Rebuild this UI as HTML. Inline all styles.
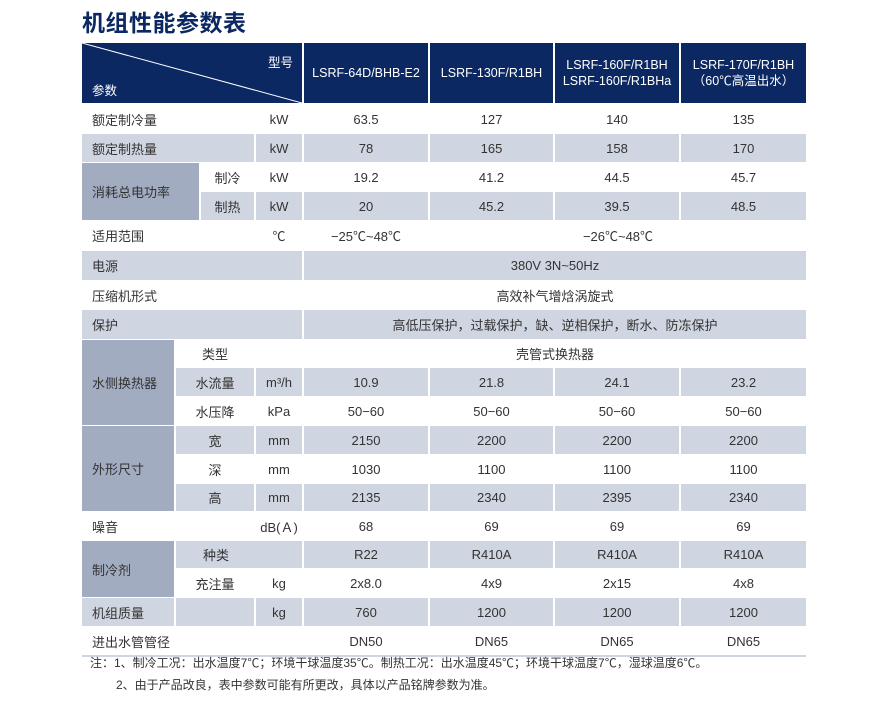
<!DOCTYPE html>
<html><head><meta charset="utf-8"><style>
body{margin:0;width:891px;height:704px;background:#fff;position:relative;overflow:hidden;font-family:"Liberation Sans","Noto Sans CJK SC",sans-serif;color:#333;font-size:13px}
.c{position:absolute;display:flex;align-items:center;justify-content:center;white-space:nowrap}
.l{justify-content:flex-start;padding-left:10px;box-sizing:border-box}
.g{background:#d0d6e1}
.G{background:#a2acc1}
.h{background:#0c2862;color:#fff;text-align:center;line-height:16px;font-size:12.5px}
</style></head><body>
<div style="position:absolute;left:82px;top:4px;font-size:23px;font-weight:bold;color:#0c2862;letter-spacing:0.5px">机组性能参数表</div>

<!-- header -->
<div class="c h" style="left:82px;top:43px;width:220px;height:60px"></div>
<svg style="position:absolute;left:82px;top:43px" width="220" height="60"><line x1="0" y1="0" x2="220" y2="60" stroke="#fff" stroke-width="1"/></svg>
<div style="position:absolute;left:268px;top:52px;color:#fff;font-size:12.5px">型号</div>
<div style="position:absolute;left:92px;top:80px;color:#fff;font-size:12.5px">参数</div>
<div class="c h" style="left:304px;top:43px;width:124px;height:60px">LSRF-64D/BHB-E2</div>
<div class="c h" style="left:430px;top:43px;width:123px;height:60px">LSRF-130F/R1BH</div>
<div class="c h" style="left:555px;top:43px;width:124px;height:60px">LSRF-160F/R1BH<br>LSRF-160F/R1BHa</div>
<div class="c h" style="left:681px;top:43px;width:125px;height:60px">LSRF-170F/R1BH<br>（60℃高温出水）</div>

<!-- 额定制冷量 -->
<div class="c l" style="left:82px;top:105px;width:172px;height:28px">额定制冷量</div>
<div class="c" style="left:256px;top:105px;width:46px;height:28px">kW</div>
<div class="c" style="left:304px;top:105px;width:124px;height:28px">63.5</div>
<div class="c" style="left:430px;top:105px;width:123px;height:28px">127</div>
<div class="c" style="left:555px;top:105px;width:124px;height:28px">140</div>
<div class="c" style="left:681px;top:105px;width:125px;height:28px">135</div>
<!-- 额定制热量 -->
<div class="c l g" style="left:82px;top:134px;width:172px;height:28px">额定制热量</div>
<div class="c g" style="left:256px;top:134px;width:46px;height:28px">kW</div>
<div class="c g" style="left:304px;top:134px;width:124px;height:28px">78</div>
<div class="c g" style="left:430px;top:134px;width:123px;height:28px">165</div>
<div class="c g" style="left:555px;top:134px;width:124px;height:28px">158</div>
<div class="c g" style="left:681px;top:134px;width:125px;height:28px">170</div>
<!-- power -->
<div class="c l G" style="left:82px;top:163px;width:117px;height:57px">消耗总电功率</div>
<div class="c" style="left:201px;top:163px;width:53px;height:28px">制冷</div>
<div class="c" style="left:256px;top:163px;width:46px;height:28px">kW</div>
<div class="c" style="left:304px;top:163px;width:124px;height:28px">19.2</div>
<div class="c" style="left:430px;top:163px;width:123px;height:28px">41.2</div>
<div class="c" style="left:555px;top:163px;width:124px;height:28px">44.5</div>
<div class="c" style="left:681px;top:163px;width:125px;height:28px">45.7</div>
<div class="c g" style="left:201px;top:192px;width:53px;height:28px">制热</div>
<div class="c g" style="left:256px;top:192px;width:46px;height:28px">kW</div>
<div class="c g" style="left:304px;top:192px;width:124px;height:28px">20</div>
<div class="c g" style="left:430px;top:192px;width:123px;height:28px">45.2</div>
<div class="c g" style="left:555px;top:192px;width:124px;height:28px">39.5</div>
<div class="c g" style="left:681px;top:192px;width:125px;height:28px">48.5</div>
<!-- 适用范围 -->
<div class="c l" style="left:82px;top:221px;width:172px;height:29px">适用范围</div>
<div class="c" style="left:256px;top:221px;width:46px;height:29px">℃</div>
<div class="c" style="left:304px;top:221px;width:124px;height:29px">−25℃~48℃</div>
<div class="c" style="left:430px;top:221px;width:376px;height:29px">−26℃~48℃</div>
<!-- 电源 -->
<div class="c l g" style="left:82px;top:251px;width:220px;height:29px">电源</div>
<div class="c g" style="left:304px;top:251px;width:502px;height:29px">380V 3N~50Hz</div>
<!-- 压缩机 -->
<div class="c l" style="left:82px;top:281px;width:220px;height:28px">压缩机形式</div>
<div class="c" style="left:304px;top:281px;width:502px;height:28px">高效补气增焓涡旋式</div>
<!-- 保护 -->
<div class="c l g" style="left:82px;top:310px;width:220px;height:29px">保护</div>
<div class="c g" style="left:304px;top:310px;width:502px;height:29px">高低压保护，过载保护，缺、逆相保护，断水、防冻保护</div>
<!-- water -->
<div class="c l G" style="left:82px;top:340px;width:92px;height:85px">水侧换热器</div>
<div class="c" style="left:176px;top:340px;width:78px;height:27px">类型</div>
<div class="c" style="left:304px;top:340px;width:502px;height:27px">壳管式换热器</div>
<div class="c g" style="left:176px;top:368px;width:78px;height:28px">水流量</div>
<div class="c g" style="left:256px;top:368px;width:46px;height:28px">m³/h</div>
<div class="c g" style="left:304px;top:368px;width:124px;height:28px">10.9</div>
<div class="c g" style="left:430px;top:368px;width:123px;height:28px">21.8</div>
<div class="c g" style="left:555px;top:368px;width:124px;height:28px">24.1</div>
<div class="c g" style="left:681px;top:368px;width:125px;height:28px">23.2</div>
<div class="c" style="left:176px;top:397px;width:78px;height:28px">水压降</div>
<div class="c" style="left:256px;top:397px;width:46px;height:28px">kPa</div>
<div class="c" style="left:304px;top:397px;width:124px;height:28px">50−60</div>
<div class="c" style="left:430px;top:397px;width:123px;height:28px">50−60</div>
<div class="c" style="left:555px;top:397px;width:124px;height:28px">50−60</div>
<div class="c" style="left:681px;top:397px;width:125px;height:28px">50−60</div>
<!-- size -->
<div class="c l G" style="left:82px;top:426px;width:92px;height:85px">外形尺寸</div>
<div class="c g" style="left:176px;top:426px;width:78px;height:28px">宽</div>
<div class="c g" style="left:256px;top:426px;width:46px;height:28px">mm</div>
<div class="c g" style="left:304px;top:426px;width:124px;height:28px">2150</div>
<div class="c g" style="left:430px;top:426px;width:123px;height:28px">2200</div>
<div class="c g" style="left:555px;top:426px;width:124px;height:28px">2200</div>
<div class="c g" style="left:681px;top:426px;width:125px;height:28px">2200</div>
<div class="c" style="left:176px;top:455px;width:78px;height:28px">深</div>
<div class="c" style="left:256px;top:455px;width:46px;height:28px">mm</div>
<div class="c" style="left:304px;top:455px;width:124px;height:28px">1030</div>
<div class="c" style="left:430px;top:455px;width:123px;height:28px">1100</div>
<div class="c" style="left:555px;top:455px;width:124px;height:28px">1100</div>
<div class="c" style="left:681px;top:455px;width:125px;height:28px">1100</div>
<div class="c g" style="left:176px;top:484px;width:78px;height:27px">高</div>
<div class="c g" style="left:256px;top:484px;width:46px;height:27px">mm</div>
<div class="c g" style="left:304px;top:484px;width:124px;height:27px">2135</div>
<div class="c g" style="left:430px;top:484px;width:123px;height:27px">2340</div>
<div class="c g" style="left:555px;top:484px;width:124px;height:27px">2395</div>
<div class="c g" style="left:681px;top:484px;width:125px;height:27px">2340</div>
<!-- noise -->
<div class="c l" style="left:82px;top:512px;width:172px;height:28px">噪音</div>
<div class="c" style="left:256px;top:512px;width:46px;height:28px">dB(Ａ)</div>
<div class="c" style="left:304px;top:512px;width:124px;height:28px">68</div>
<div class="c" style="left:430px;top:512px;width:123px;height:28px">69</div>
<div class="c" style="left:555px;top:512px;width:124px;height:28px">69</div>
<div class="c" style="left:681px;top:512px;width:125px;height:28px">69</div>
<!-- refrigerant -->
<div class="c l G" style="left:82px;top:541px;width:92px;height:56px">制冷剂</div>
<div class="c g" style="left:176px;top:541px;width:126px;height:27px;justify-content:flex-start;padding-left:27px;box-sizing:border-box">种类</div>
<div class="c g" style="left:304px;top:541px;width:124px;height:27px">R22</div>
<div class="c g" style="left:430px;top:541px;width:123px;height:27px">R410A</div>
<div class="c g" style="left:555px;top:541px;width:124px;height:27px">R410A</div>
<div class="c g" style="left:681px;top:541px;width:125px;height:27px">R410A</div>
<div class="c" style="left:176px;top:569px;width:78px;height:28px">充注量</div>
<div class="c" style="left:256px;top:569px;width:46px;height:28px">kg</div>
<div class="c" style="left:304px;top:569px;width:124px;height:28px">2x8.0</div>
<div class="c" style="left:430px;top:569px;width:123px;height:28px">4x9</div>
<div class="c" style="left:555px;top:569px;width:124px;height:28px">2x15</div>
<div class="c" style="left:681px;top:569px;width:125px;height:28px">4x8</div>
<!-- weight -->
<div class="c l g" style="left:82px;top:598px;width:92px;height:28px">机组质量</div>
<div class="c g" style="left:176px;top:598px;width:78px;height:28px"></div>
<div class="c g" style="left:256px;top:598px;width:46px;height:28px">kg</div>
<div class="c g" style="left:304px;top:598px;width:124px;height:28px">760</div>
<div class="c g" style="left:430px;top:598px;width:123px;height:28px">1200</div>
<div class="c g" style="left:555px;top:598px;width:124px;height:28px">1200</div>
<div class="c g" style="left:681px;top:598px;width:125px;height:28px">1200</div>
<!-- pipe -->
<div class="c l" style="left:82px;top:627px;width:220px;height:28px">进出水管管径</div>
<div class="c" style="left:304px;top:627px;width:124px;height:28px">DN50</div>
<div class="c" style="left:430px;top:627px;width:123px;height:28px">DN65</div>
<div class="c" style="left:555px;top:627px;width:124px;height:28px">DN65</div>
<div class="c" style="left:681px;top:627px;width:125px;height:28px">DN65</div>
<div style="position:absolute;left:82px;top:655px;width:724px;height:2px;background:#d0d6e1"></div>

<div style="position:absolute;left:90px;top:654px;font-size:12px;line-height:18px">注：1、制冷工况：出水温度7℃；环境干球温度35℃。制热工况：出水温度45℃；环境干球温度7℃，湿球温度6℃。</div>
<div style="position:absolute;left:116px;top:676px;font-size:12px;line-height:18px">2、由于产品改良，表中参数可能有所更改，具体以产品铭牌参数为准。</div>
</body></html>
